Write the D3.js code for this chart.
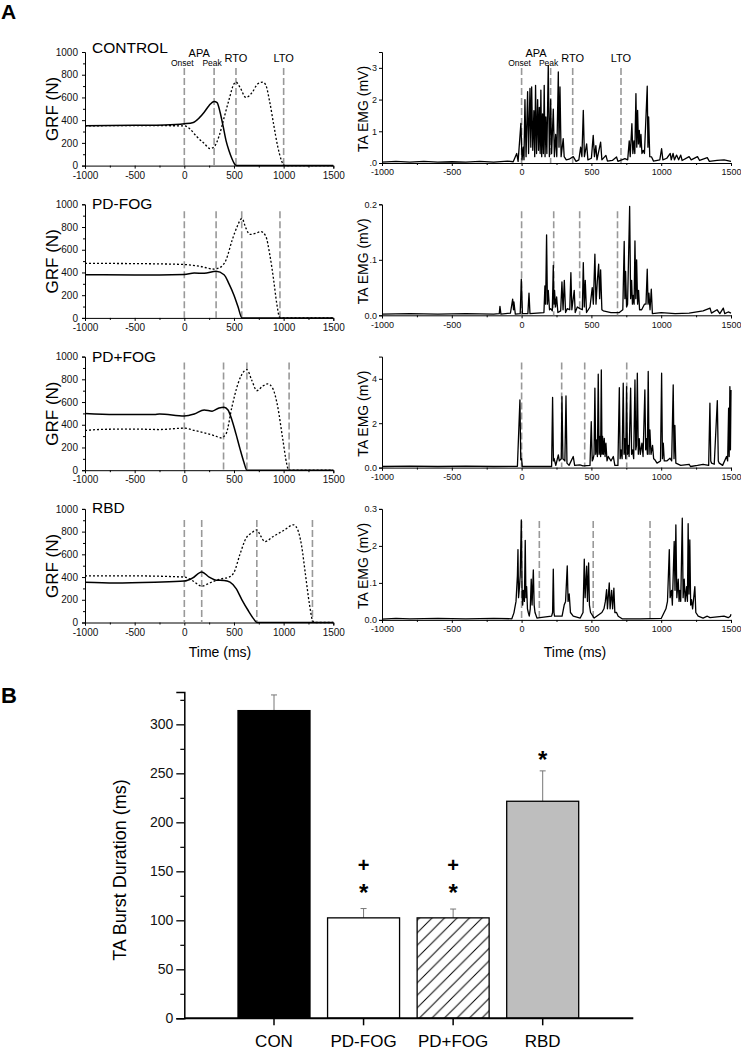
<!DOCTYPE html>
<html><head><meta charset="utf-8">
<script src="https://cdn.jsdelivr.net/npm/d3@7"></script>
<style>
body{margin:0;background:#fff}
svg{display:block;font-family:"Liberation Sans",Arial,sans-serif}
</style></head><body><svg id="fig" width="741" height="1050"></svg>
<script>
// ---- panel A data ----
var groups = ["CONTROL", "PD-FOG", "PD+FOG", "RBD"];
var timeTicks = [-1000, -500, 0, 500, 1000, 1500];
var grfTicks = [0, 200, 400, 600, 800, 1000];
var eventNames = ["Onset", "Peak", "RTO", "LTO"];

// GRF, solid leg [time ms, N]
var grfSolid = [
  [[-1000,350],[-500,355],[-200,358],[0,368],[90,380],[150,420],[200,470],[250,530],[300,565],[330,555],[360,470],[390,350],[420,220],[450,130],[480,60],[510,10],[530,0],[1500,0]],
  [[-1000,380],[-500,378],[0,383],[100,395],[200,392],[320,410],[400,380],[450,300],[500,200],[540,100],[580,0],[1500,0]],
  [[-1000,500],[-700,490],[-300,490],[-250,495],[0,478],[100,495],[200,530],[280,520],[350,548],[400,555],[440,530],[480,440],[520,320],[560,190],[600,70],[630,0],[1500,0]],
  [[-1000,355],[-700,348],[-300,355],[0,365],[80,390],[175,445],[250,400],[320,372],[400,370],[460,355],[520,300],[580,200],[640,110],[700,30],[730,0],[1500,0]]
];
// GRF, dotted leg
var grfDotted = [
  [[-1000,350],[-500,352],[0,350],[60,320],[120,260],[200,195],[260,150],[300,165],[350,260],[400,420],[450,580],[500,720],[520,735],[560,690],[620,600],[680,640],[740,720],[790,735],[820,710],[860,560],[900,360],[940,170],[980,40],[1000,5],[1020,0],[1500,0]],
  [[-1000,480],[-500,478],[0,470],[150,455],[300,430],[350,440],[420,510],[480,680],[530,800],[580,875],[620,790],[660,735],[720,745],[770,760],[820,720],[860,560],[900,330],[930,130],[960,5],[980,0],[1500,0]],
  [[-1000,350],[-800,360],[-500,362],[-250,358],[0,370],[100,350],[200,330],[300,305],[370,285],[420,320],[480,560],[540,760],[600,870],[630,885],[680,790],[730,700],[790,740],[840,760],[890,720],[940,560],[990,280],[1030,60],[1050,0],[1500,0]],
  [[-1000,410],[-500,410],[0,400],[80,370],[175,320],[260,350],[350,380],[450,400],[500,440],[560,600],[620,740],[680,790],[730,815],[770,760],[810,712],[900,760],[1000,810],[1100,860],[1140,820],[1180,680],[1220,420],[1260,160],[1290,20],[1310,0],[1500,0]]
];
var grfEvents = [[0,300,520,1000],[0,320,578,963],[0,395,630,1055],[0,175,730,1290]];
var emgEvents = [[0,208,366,712],[0,230,416,687],[0,287,452,753],[0,127,513,920]];

var emgMax = [3.5, 0.2, 5, 0.3];
var emgTickVals = [[0,1,2,3],[0,0.1,0.2],[0,2,4],[0,0.1,0.2,0.3]];
var emgTickText = [[".0","1","2","3"],["0.0",".1","0.2"],["0.0","2","4"],["0.0",".1","2","0.3"]];

// TA EMG traces [time ms, mV]
var emgTrace = [
  [[-1000,0.03],[-900,0.05],[-800,0.03],[-700,0.05],[-600,0.03],[-500,0.04],[-400,0.03],[-300,0.05],[-200,0.03],[-100,0.06],[-60,0.04],[-35,0.3],[-25,0.05],[-5,1.25],[3,0.1],[12,0.5],[17,0.1],[24,2.0],[32,0.2],[43,2.25],[50,0.3],[60,2.35],[66,0.5],[72,2.4],[80,0.4],[88,1.65],[94,0.2],[100,2.45],[107,0.3],[115,2.0],[121,0.4],[127,1.75],[133,0.3],[138,2.3],[144,0.2],[150,1.55],[156,0.3],[162,2.45],[168,0.2],[174,1.45],[181,0.3],[191,3.08],[199,0.2],[208,2.0],[215,0.3],[227,1.7],[235,0.2],[244,0.9],[252,0.2],[263,2.87],[268,0.5],[275,2.4],[283,0.2],[298,0.77],[305,0.2],[320,0.1],[340,0.12],[370,0.2],[390,0.05],[410,0.1],[423,0.5],[432,0.2],[442,1.66],[450,0.2],[466,0.6],[475,0.1],[500,0.15],[513,0.87],[522,0.2],[532,0.55],[540,0.1],[566,0.66],[575,0.1],[604,0.24],[615,0.06],[650,0.08],[680,0.19],[690,0.05],[740,0.14],[760,0.1],[771,0.7],[778,0.2],[790,1.24],[797,0.3],[805,0.7],[811,0.3],[819,2.19],[825,0.5],[831,1.66],[837,0.6],[843,1.03],[849,0.5],[855,0.9],[862,0.3],[871,0.4],[880,0.3],[900,2.42],[905,0.5],[910,1.45],[918,0.2],[931,0.19],[945,0.06],[990,0.1],[1003,0.45],[1012,0.1],[1040,0.15],[1065,0.3],[1072,0.1],[1085,0.3],[1095,0.1],[1110,0.25],[1125,0.1],[1140,0.25],[1150,0.08],[1200,0.2],[1215,0.1],[1260,0.2],[1275,0.08],[1330,0.17],[1345,0.05],[1400,0.08],[1450,0.1],[1500,0.05]],
  [[-1000,0.002],[-800,0.003],[-600,0.002],[-400,0.003],[-200,0.002],[-160,0.003],[-155,0.016],[-148,0.002],[-80,0.004],[-64,0.029],[-58,0.01],[-55,0.024],[-45,0.002],[-10,0.003],[-2,0.065],[6,0.003],[45,0.003],[53,0.04],[60,0.003],[160,0.005],[167,0.053],[172,0.02],[179,0.145],[185,0.02],[191,0.045],[200,0.01],[208,0.012],[220,0.008],[227,0.09],[232,0.02],[236,0.045],[243,0.015],[251,0.033],[260,0.005],[280,0.008],[289,0.06],[297,0.01],[306,0.063],[315,0.005],[327,0.012],[345,0.01],[353,0.077],[360,0.01],[377,0.045],[384,0.005],[399,0.015],[418,0.012],[435,0.01],[442,0.095],[449,0.015],[456,0.063],[465,0.005],[490,0.015],[506,0.05],[514,0.02],[525,0.11],[533,0.02],[542,0.06],[552,0.092],[559,0.03],[566,0.082],[575,0.01],[585,0.008],[640,0.005],[700,0.005],[725,0.01],[735,0.133],[740,0.03],[745,0.079],[752,0.015],[759,0.02],[774,0.196],[781,0.03],[788,0.063],[794,0.02],[800,0.036],[806,0.02],[812,0.134],[818,0.03],[824,0.1],[831,0.02],[838,0.045],[845,0.01],[860,0.01],[880,0.02],[891,0.02],[900,0.083],[906,0.02],[912,0.04],[920,0.01],[929,0.047],[937,0.003],[1000,0.005],[1100,0.003],[1200,0.004],[1300,0.008],[1350,0.013],[1360,0.004],[1400,0.01],[1420,0.003],[1445,0.013],[1455,0.003],[1480,0.006],[1500,0.004]],
  [[-1000,0.05],[-800,0.07],[-600,0.05],[-400,0.07],[-200,0.05],[-30,0.06],[-12,3.05],[-6,0.35],[0,0.4],[5,0.05],[100,0.05],[215,0.05],[222,3.16],[228,0.3],[232,0.42],[245,0.1],[263,0.57],[270,0.3],[284,0.4],[289,3.2],[296,0.4],[303,0.35],[310,0.3],[318,3.23],[325,0.2],[340,0.1],[370,0.5],[380,0.1],[418,0.12],[440,0.08],[490,0.1],[499,2.07],[506,0.3],[513,0.4],[519,0.6],[525,3.58],[531,0.6],[537,1.25],[543,0.5],[549,4.21],[555,0.6],[561,1.4],[566,0.5],[571,4.4],[576,0.6],[580,1.4],[586,0.6],[592,1.32],[598,0.5],[604,1.1],[612,0.3],[621,0.5],[640,0.3],[657,0.5],[668,0.1],[690,0.1],[700,3.6],[706,0.4],[712,0.8],[720,0.4],[728,3.8],[734,0.6],[740,1.3],[746,0.4],[752,3.65],[758,0.6],[764,1.0],[770,0.5],[781,3.58],[788,0.6],[795,0.8],[803,0.4],[812,3.95],[818,0.8],[823,1.0],[829,4.25],[836,0.6],[843,1.3],[850,0.6],[862,1.1],[870,0.5],[883,3.5],[889,0.8],[895,1.3],[901,0.6],[907,4.33],[913,0.6],[919,1.7],[927,0.6],[938,1.0],[946,0.4],[955,0.35],[970,0.2],[995,0.3],[1003,4.25],[1009,0.4],[1015,1.1],[1022,0.3],[1040,0.3],[1063,0.42],[1075,0.3],[1086,3.73],[1092,0.4],[1098,1.9],[1105,0.2],[1140,0.1],[1200,0.15],[1210,0.05],[1260,0.1],[1300,0.15],[1340,0.1],[1349,2.9],[1355,0.3],[1361,0.2],[1380,0.15],[1402,3.02],[1409,0.3],[1416,0.2],[1440,0.1],[1468,0.5],[1476,0.3],[1483,2.68],[1487,0.5],[1492,3.65],[1496,0.8],[1500,3.5]],
  [[-1000,0.002],[-900,0.004],[-800,0.003],[-600,0.004],[-400,0.003],[-200,0.004],[-70,0.003],[-55,0.019],[-40,0.05],[-30,0.12],[-26,0.19],[-22,0.06],[-17,0.08],[-10,0.12],[-2,0.27],[4,0.06],[8,0.04],[12,0.08],[20,0.05],[26,0.215],[31,0.06],[36,0.09],[42,0.03],[48,0.02],[55,0.01],[62,0.03],[69,0.11],[75,0.04],[84,0.135],[90,0.04],[96,0.02],[110,0.005],[131,0.006],[215,0.01],[222,0.02],[227,0.137],[232,0.02],[236,0.01],[290,0.01],[305,0.04],[315,0.05],[327,0.146],[333,0.05],[341,0.07],[350,0.02],[370,0.01],[420,0.005],[440,0.02],[449,0.164],[455,0.06],[466,0.145],[472,0.05],[480,0.154],[486,0.04],[494,0.02],[520,0.005],[575,0.02],[590,0.03],[600,0.05],[609,0.082],[615,0.03],[628,0.1],[634,0.03],[645,0.08],[652,0.03],[661,0.086],[668,0.02],[680,0.02],[692,0.01],[720,0.003],[850,0.003],[1000,0.004],[1034,0.03],[1045,0.05],[1058,0.19],[1064,0.06],[1074,0.08],[1080,0.04],[1093,0.212],[1099,0.08],[1105,0.257],[1112,0.06],[1122,0.11],[1128,0.05],[1134,0.08],[1140,0.05],[1151,0.275],[1157,0.06],[1165,0.11],[1172,0.05],[1182,0.09],[1188,0.05],[1193,0.26],[1199,0.07],[1205,0.216],[1211,0.04],[1217,0.055],[1225,0.03],[1241,0.09],[1248,0.02],[1265,0.01],[1300,0.005],[1330,0.01],[1350,0.006],[1400,0.008],[1450,0.01],[1480,0.006],[1495,0.01],[1500,0.015]]
];

// ---- panel B data ----
var barCats = ["CON", "PD-FOG", "PD+FOG", "RBD"];
var barMeans = [314, 102.5, 102.5, 221.5];
var barErr = [16, 9.5, 9, 31];
var barMarks = [[], ["+", "*"], ["+", "*"], ["*"]];
var barTicks = [0, 50, 100, 150, 200, 250, 300];

var svg = d3.select('#fig');
var defs = svg.append('defs');
defs.append('pattern')
    .attr('id', 'hatch')
    .attr('patternUnits', 'userSpaceOnUse')
    .attr('width', 12.5).attr('height', 12.5)
  .append('path')
    .attr('d', 'M0,12.5L12.5,0M-3,3L3,-3M9.5,15.5L15.5,9.5')
    .attr('stroke', '#000').attr('stroke-width', 1);

var grfX = d3.scaleLinear().domain([-1000, 1500]).range([85, 333.3]);
var emgX = d3.scaleLinear().domain([-1000, 1500]).range([382, 731]);
var plain = function(d) { return String(d); };

// small helper to style an axis group
function styleAxis(g, fs) {
   g.select('.domain').attr('stroke', '#000').attr('stroke-width', 1);
   g.selectAll('.tick line').attr('stroke', '#000');
   g.selectAll('.tick text').attr('font-size', fs).attr('fill', '#111')
    .attr('font-family', '"Liberation Sans",Arial,sans-serif');
}

function xAxes(x, yb, fs) {
   var gx = svg.append('g').attr('transform', 'translate(0,' + yb + ')')
      .call(d3.axisBottom(x).tickValues(timeTicks).tickSize(3).tickPadding(3).tickFormat(plain));
   styleAxis(gx, fs);
   svg.append('g').attr('transform', 'translate(0,' + yb + ')')
      .call(d3.axisBottom(x).tickValues([-750, -250, 250, 750, 1250]).tickSize(2).tickFormat(''))
      .call(function(g) { g.select('.domain').remove(); g.selectAll('line').attr('stroke', '#000'); });
}

var evTopGrf = [16, 7, 6, 11];
var evTopEmg = [16, 7, 6, 12];

groups.forEach(function(name, i) {
   var top = 52 + i * 152.3;
   var gy = d3.scaleLinear().domain([0, 1000]).range([top + 113.6, top]);
   var ey = d3.scaleLinear().domain([0, emgMax[i]]).range([top + 111, top]);

   // --- GRF ---
   var gl = svg.append('g').attr('transform', 'translate(85,0)')
      .call(d3.axisLeft(gy).tickValues(grfTicks).tickSize(3).tickPadding(4).tickFormat(plain));
   styleAxis(gl, 10);
   svg.append('g').attr('transform', 'translate(85,0)')
      .call(d3.axisLeft(gy).tickValues([100, 300, 500, 700, 900]).tickSize(2).tickFormat(''))
      .call(function(g) { g.select('.domain').remove(); g.selectAll('line').attr('stroke', '#000'); });
   xAxes(grfX, gy(0), 10);

   svg.selectAll(null).data(grfEvents[i]).enter().append('line')
      .attr('x1', function(d) { return grfX(d); }).attr('x2', function(d) { return grfX(d); })
      .attr('y1', top + evTopGrf[i]).attr('y2', gy(0))
      .attr('stroke', '#999').attr('stroke-width', 1.6).attr('stroke-dasharray', '7,3');

   var grfLine = d3.line().x(function(d) { return grfX(d[0]); }).y(function(d) { return gy(d[1]); })
      .curve(d3.curveMonotoneX);
   svg.append('path').attr('d', grfLine(grfDotted[i]))
      .attr('fill', 'none').attr('stroke', '#000').attr('stroke-width', 1.3).attr('stroke-dasharray', '2,2');
   svg.append('path').attr('d', grfLine(grfSolid[i]))
      .attr('fill', 'none').attr('stroke', '#000').attr('stroke-width', 1.5);

   svg.append('text').attr('x', 92).attr('y', [53.3, 209.3, 361.7, 513.3][i])
      .attr('font-size', 15.5).text(name);

   svg.append('text').attr('transform', 'translate(58,' + (top + 57) + ') rotate(-90)')
      .attr('text-anchor', 'middle').attr('font-size', 17).text('GRF (N)');

   // --- EMG ---
   var el = svg.append('g').attr('transform', 'translate(382,0)')
      .call(d3.axisLeft(ey).tickValues(emgTickVals[i]).tickSize(3).tickPadding(2)
         .tickFormat(function(d, k) { return emgTickText[i][k]; }));
   styleAxis(el, 9);
   xAxes(emgX, ey(0), 9);

   svg.selectAll(null).data(emgEvents[i]).enter().append('line')
      .attr('x1', function(d) { return emgX(d); }).attr('x2', function(d) { return emgX(d); })
      .attr('y1', top + evTopEmg[i]).attr('y2', ey(0))
      .attr('stroke', '#999').attr('stroke-width', 1.6).attr('stroke-dasharray', '7,3');

   var emgLine = d3.line().x(function(d) { return emgX(d[0]); }).y(function(d) { return ey(d[1]); });
   svg.append('path').attr('d', emgLine(emgTrace[i]))
      .attr('fill', 'none').attr('stroke', '#000').attr('stroke-width', 1.3).attr('stroke-linejoin', 'round');

   svg.append('text').attr('transform', 'translate(368,' + (top + 57) + ') rotate(-90)')
      .attr('text-anchor', 'middle').attr('font-size', 14).text('TA EMG (mV)');

   // event labels only on the first row
   if (i === 0) {
      [[grfX, grfEvents[0]], [emgX, emgEvents[0]]].forEach(function(p) {
         var sx = p[0], ev = p[1];
         svg.append('text').attr('x', (sx(ev[0]) + sx(ev[1])) / 2).attr('y', 56.7)
            .attr('text-anchor', 'middle').attr('font-size', 11).text('APA');
         svg.selectAll(null).data(eventNames).enter().append('text')
            .attr('x', function(d, k) { return sx(ev[k]) - (k < 2 ? 2 : 0); })
            .attr('y', function(d, k) { return k < 2 ? 66 : 61.7; })
            .attr('text-anchor', 'middle')
            .attr('font-size', function(d, k) { return k < 2 ? 8.5 : 11; })
            .text(function(d) { return d; });
      });
   }
});

svg.append('text').attr('x', 220).attr('y', 657).attr('text-anchor', 'middle').attr('font-size', 14).text('Time (ms)');
svg.append('text').attr('x', 575).attr('y', 657).attr('text-anchor', 'middle').attr('font-size', 14).text('Time (ms)');

svg.append('text').attr('x', 1).attr('y', 18.5).attr('font-size', 21).attr('font-weight', 'bold').text('A');
svg.append('text').attr('x', 1).attr('y', 703).attr('font-size', 22).attr('font-weight', 'bold').text('B');

// ---- bar chart ----
var by = d3.scaleLinear().domain([0, 333]).range([1018.3, 692]);
var bx = d3.scalePoint().domain(barCats).range([274, 542.7]);
var bw = 72;
var fills = ['#000', '#fff', 'url(#hatch)', '#bebebe'];

var ya = svg.append('g').attr('transform', 'translate(184.3,0)')
   .call(d3.axisLeft(by).tickValues(barTicks).tickSize(8).tickPadding(3));
ya.select('.domain').attr('stroke', '#000').attr('stroke-width', 1.5);
ya.selectAll('.tick line').attr('stroke', '#000').attr('stroke-width', 1.3);
ya.selectAll('.tick text').attr('font-size', 14).attr('fill', '#111')
  .attr('font-family', '"Liberation Sans",Arial,sans-serif');
svg.append('g').attr('transform', 'translate(184.3,0)')
   .call(d3.axisLeft(by).tickValues([25, 75, 125, 175, 225, 275, 325]).tickSize(4).tickFormat(''))
   .call(function(g) { g.select('.domain').remove(); g.selectAll('line').attr('stroke', '#000').attr('stroke-width', 1.2); });

// error bars (upper only)
svg.selectAll(null).data(barCats).enter().append('line')
   .attr('x1', function(d) { return bx(d); }).attr('x2', function(d) { return bx(d); })
   .attr('y1', function(d, i) { return by(barMeans[i]); })
   .attr('y2', function(d, i) { return by(barMeans[i] + barErr[i]); })
   .attr('stroke', '#777').attr('stroke-width', 1);
svg.selectAll(null).data(barCats).enter().append('line')
   .attr('x1', function(d) { return bx(d) - 3; }).attr('x2', function(d) { return bx(d) + 3; })
   .attr('y1', function(d, i) { return by(barMeans[i] + barErr[i]); })
   .attr('y2', function(d, i) { return by(barMeans[i] + barErr[i]); })
   .attr('stroke', '#777').attr('stroke-width', 1);

svg.selectAll('.bar').data(barCats).enter().append('rect')
   .attr('class', 'bar')
   .attr('x', function(d) { return bx(d) - bw / 2; })
   .attr('width', bw)
   .attr('y', function(d, i) { return by(barMeans[i]); })
   .attr('height', function(d, i) { return by(0) - by(barMeans[i]); })
   .attr('fill', function(d, i) { return fills[i]; })
   .attr('stroke', '#000').attr('stroke-width', 1.3);

// x axis
svg.append('line').attr('x1', 184.3).attr('x2', 633.3).attr('y1', by(0)).attr('y2', by(0))
   .attr('stroke', '#000').attr('stroke-width', 2);
svg.selectAll(null).data(barCats).enter().append('line')
   .attr('x1', function(d) { return bx(d); }).attr('x2', function(d) { return bx(d); })
   .attr('y1', by(0)).attr('y2', by(0) + 7)
   .attr('stroke', '#000').attr('stroke-width', 1.5);
svg.selectAll(null).data(barCats).enter().append('text')
   .attr('x', function(d) { return bx(d); }).attr('y', 1047)
   .attr('text-anchor', 'middle').attr('font-size', 17)
   .text(function(d) { return d; });

// significance marks
barCats.forEach(function(c, i) {
   var yTop = by(barMeans[i] + barErr[i]);
   barMarks[i].forEach(function(m, k) {
      var n = barMarks[i].length;
      var off = (n - 1 - k) * 24; // '+' above '*'
      svg.append('text').attr('x', bx(c)).attr('text-anchor', 'middle')
         .attr('font-weight', 'bold')
         .attr('font-size', m === '*' ? 24 : 20)
         .attr('y', m === '*' ? yTop - 20 + 12 - off + (n === 1 ? 5 : 0) : yTop - 44 + 7)
         .text(m);
   });
});

svg.append('text').attr('transform', 'translate(126,870) rotate(-90)')
   .attr('text-anchor', 'middle').attr('font-size', 18).text('TA Burst Duration (ms)');
</script></body></html>
